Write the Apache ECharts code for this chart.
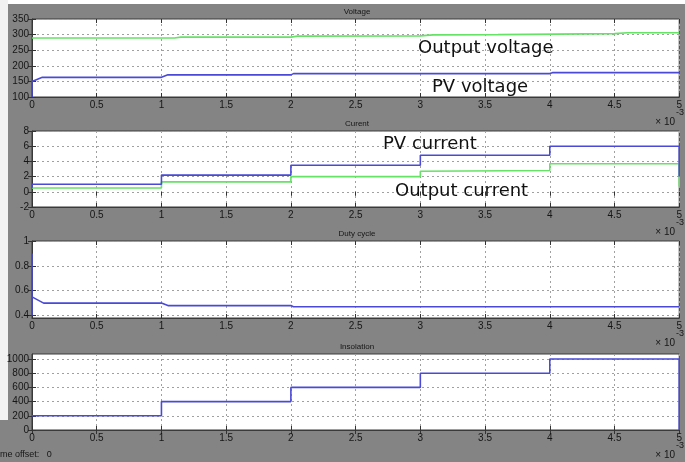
<!DOCTYPE html>
<html><head><meta charset="utf-8">
<script src="https://cdn.jsdelivr.net/npm/echarts@6/dist/echarts.min.js"></script>
<style>html,body{margin:0;padding:0;background:#848484}#c{width:685px;height:462px}</style>
</head><body><div id="c"></div>
<script>
// time in ms (x 10^-3 s)
const xTicks = [0,0.5,1,1.5,2,2.5,3,3.5,4,4.5,5];
const panelTitles = ['Voltage','Curent','Duty cycle','Insolation'];
const outputVoltage = [[0,289],[1.1,289],[1.15,292],[2,292],[2.05,295],[3,296],[3.1,299],[3.6,300],[4.5,303],[4.6,306],[5,306]];
const pvVoltage = [[0,100],[0,150],[0.08,163],[1.0,163],[1.05,171],[2.0,171],[2.02,175],[4.0,175],[4.02,178],[5,178]];
const pvCurrent = [[0,0.5],[0,1.0],[1,1.0],[1,2.2],[2,2.2],[2,3.5],[3,3.5],[3,4.8],[4,4.8],[4,6.0],[5,6.0],[5,2.0]];
const outputCurrent = [[0,0.5],[1,0.5],[1,1.3],[2,1.3],[2,2.0],[3,2.0],[3,2.7],[4,2.8],[4,3.7],[5,3.7],[5,0.7]];
const dutyCycle = [[0,0.4],[0,0.9],[0,0.55],[0.09,0.5],[1.0,0.5],[1.05,0.48],[2.0,0.48],[2.02,0.47],[5,0.47]];
const insolation = [[0,200],[1,200],[1,400],[2,400],[2,600],[3,600],[3,800],[4,800],[4,1000],[5,1000],[5,0]];
const yTicksVoltage = [100,150,200,250,300,350];
const yTicksCurrent = [-2,0,2,4,6,8];
const yTicksDuty = [0.4,0.6,0.8,1];
const yTicksInsolation = [0,200,400,600,800,1000];
const annotations = [['Output voltage',418,48],['PV voltage',432,87],['PV current',383,144],['Output current',395,191]];

const gridsPx = [[19,78],[131,76],[241,77],[354,76]];
const yRanges = [[100,350,yTicksVoltage],[-2,8,yTicksCurrent],[0.38,1.0,yTicksDuty],[0,1070,yTicksInsolation]];
const BLUE = '#4a4ad6', GREEN = '#66e266';
const txt = '#161616';
const grids = [], xAxes = [], yAxes = [], graphics = [];
graphics.push({type:'rect',left:0,top:0,shape:{width:685,height:4},style:{fill:'#fff'},silent:true});
graphics.push({type:'rect',left:0,top:0,shape:{width:8,height:420},style:{fill:'#f2f2f2'},silent:true});
gridsPx.forEach((g,i)=>{
  grids.push({left:32,right:2,top:g[0],height:g[1],show:true,backgroundColor:'#fff',borderColor:'#3a3a3a',borderWidth:1});
  const tickStyle = {show:true,inside:true,length:4,lineStyle:{color:'#333'}};
  const gridLine = {show:true,lineStyle:{type:[2,3],color:'#a0a0a0',width:1}};
  xAxes.push({gridIndex:i,type:'value',min:0,max:5,interval:0.5,
    axisLine:{show:true,onZero:false,lineStyle:{color:'#3a3a3a'}},axisTick:tickStyle,
    splitLine:gridLine,
    axisLabel:{fontSize:10,color:txt,margin:3,fontFamily:'Liberation Sans',customValues:xTicks,formatter:v=>String(v)}});
  xAxes.push({gridIndex:i,type:'value',min:0,max:5,interval:0.5,position:'top',
    axisLine:{show:false},axisTick:tickStyle,axisLabel:{show:false},splitLine:{show:false}});
  const r = yRanges[i];
  yAxes.push({gridIndex:i,type:'value',min:r[0],max:r[1],
    axisLine:{show:true,onZero:false,lineStyle:{color:'#3a3a3a'}},
    axisTick:Object.assign({customValues:r[2]},tickStyle),
    splitLine:gridLine,
    axisLabel:{fontSize:10,color:txt,margin:3,fontFamily:'Liberation Sans',customValues:r[2],formatter:v=>String(v)}});
  yAxes.push({gridIndex:i,type:'value',min:r[0],max:r[1],position:'right',
    axisLine:{show:false},axisTick:Object.assign({customValues:r[2]},tickStyle),axisLabel:{show:false},splitLine:{show:false}});
  graphics.push({type:'text',x:357,y:g[0]-7,style:{text:panelTitles[i],fontSize:8,fill:txt,align:'center',verticalAlign:'middle',fontFamily:'Liberation Sans'}});
  const b = g[0]+g[1];
  graphics.push({type:'text',x:675,y:b+25,style:{text:'\u00d7 10',fontSize:10,fill:txt,align:'right',verticalAlign:'middle',fontFamily:'Liberation Sans'}});
  graphics.push({type:'text',x:676,y:b+16,style:{text:'-3',fontSize:9,fill:txt,align:'left',verticalAlign:'middle',fontFamily:'Liberation Sans'}});
});
annotations.forEach(a=>{
  graphics.push({type:'text',x:a[1],y:a[2],z:100,style:{text:a[0],fontSize:18,fill:'#111',align:'left',verticalAlign:'middle',fontFamily:'DejaVu Sans'}});
});
graphics.push({type:'text',x:0,y:455,style:{text:'me offset:   0',fontSize:9,fill:txt,verticalAlign:'middle',fontFamily:'Liberation Sans'}});

function line(data,color,i){
  return {type:'line',data:data,xAxisIndex:i*2,yAxisIndex:i*2,showSymbol:false,animation:false,
    lineStyle:{color:color,width:1.6},itemStyle:{color:color}};
}
const chart = echarts.init(document.getElementById('c'),null,{renderer:'canvas'});
chart.setOption({
  backgroundColor:'#848484',animation:false,
  grid:grids,xAxis:xAxes,yAxis:yAxes,
  series:[line(outputVoltage,GREEN,0),line(pvVoltage,BLUE,0),
    line(outputCurrent,GREEN,1),line(pvCurrent,BLUE,1),
    line(dutyCycle,BLUE,2),line(insolation,BLUE,3)],
  graphic:graphics
});
</script></body></html>
